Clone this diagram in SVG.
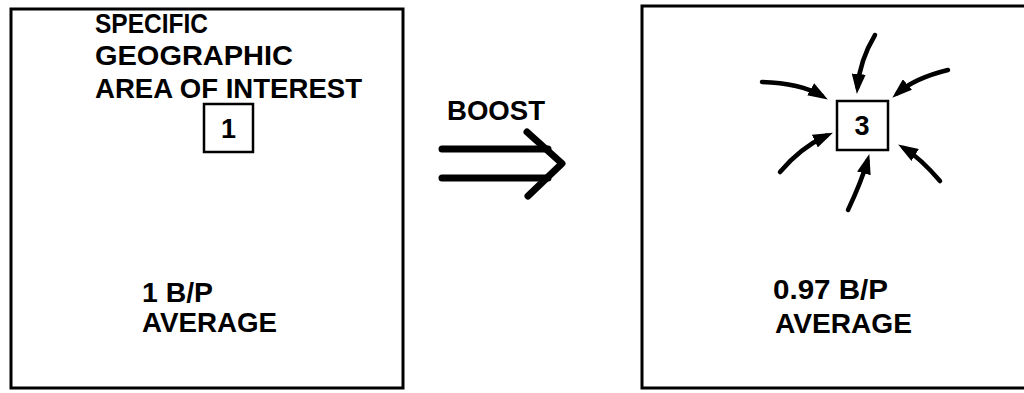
<svg xmlns="http://www.w3.org/2000/svg" width="1024" height="393" viewBox="0 0 1024 393">
<style>
.frame{fill:none;stroke:#000;stroke-width:3}
.box{fill:#fff;stroke:#000;stroke-width:2.5}
.t{font-family:"Liberation Sans",Arial,sans-serif;font-weight:bold;fill:#000;font-size:28px}
.n{font-family:"Liberation Sans",Arial,sans-serif;font-weight:bold;fill:#000;font-size:27px;text-anchor:middle}
.arr{fill:none;stroke:#000;stroke-width:4.5;stroke-linecap:round}
.big{fill:none;stroke:#000;stroke-width:7;stroke-linecap:round;stroke-linejoin:round}
</style>
<defs>
<marker id="ah" markerUnits="userSpaceOnUse" markerWidth="20" markerHeight="14" viewBox="0 0 20 14" refX="13" refY="7" orient="auto">
<path d="M0,0 L20,7 L0,14 z" fill="#000"/>
</marker>
</defs>
<rect width="1024" height="393" fill="#fff"/>
<g id="panel-left">
<rect class="frame" x="11" y="9" width="392" height="379"/>
<text class="t" x="95" y="33" textLength="113" lengthAdjust="spacingAndGlyphs">SPECIFIC</text>
<text class="t" x="95" y="65" textLength="198" lengthAdjust="spacingAndGlyphs">GEOGRAPHIC</text>
<text class="t" x="95" y="98" textLength="267" lengthAdjust="spacingAndGlyphs">AREA OF INTEREST</text>
<text class="t" x="142" y="302" textLength="71" lengthAdjust="spacingAndGlyphs">1 B/P</text>
<text class="t" x="142" y="332" textLength="135" lengthAdjust="spacingAndGlyphs">AVERAGE</text>
</g>
<g id="node-1">
<rect class="box" x="204" y="104" width="49" height="48"/>
<text class="n" x="228.5" y="138">1</text>
</g>
<g id="boost">
<text class="t" x="447" y="120" textLength="98" lengthAdjust="spacingAndGlyphs">BOOST</text>
</g>
<g id="panel-right">
<path class="frame" d="M1030,6 H642 V388 H1030"/>
<text class="t" x="773" y="299" textLength="115" lengthAdjust="spacingAndGlyphs">0.97 B/P</text>
<text class="t" x="775" y="333" textLength="137" lengthAdjust="spacingAndGlyphs">AVERAGE</text>
</g>
<g id="node-3">
<rect class="box" x="837" y="101" width="51" height="49"/>
<text class="n" x="862" y="135">3</text>
</g>
<g id="connectors">
<path class="big" d="M442,149 H548 M442,178 H548"/>
<polyline class="big" points="527,132 562,163.5 528,196"/>
<path class="arr" marker-end="url(#ah)" d="M875,35 Q860,60 857.5,87"/>
<path class="arr" marker-end="url(#ah)" d="M948,70 Q915,78 897.6,93.1"/>
<path class="arr" marker-end="url(#ah)" d="M762,82 Q800,83 821.8,95.9"/>
<path class="arr" marker-end="url(#ah)" d="M780,172 Q800,148 826.6,135.6"/>
<path class="arr" marker-end="url(#ah)" d="M848,210 Q862,180 867.4,160.8"/>
<path class="arr" marker-end="url(#ah)" d="M940,181 Q920,158 904.1,148.2"/>
</g>
</svg>
